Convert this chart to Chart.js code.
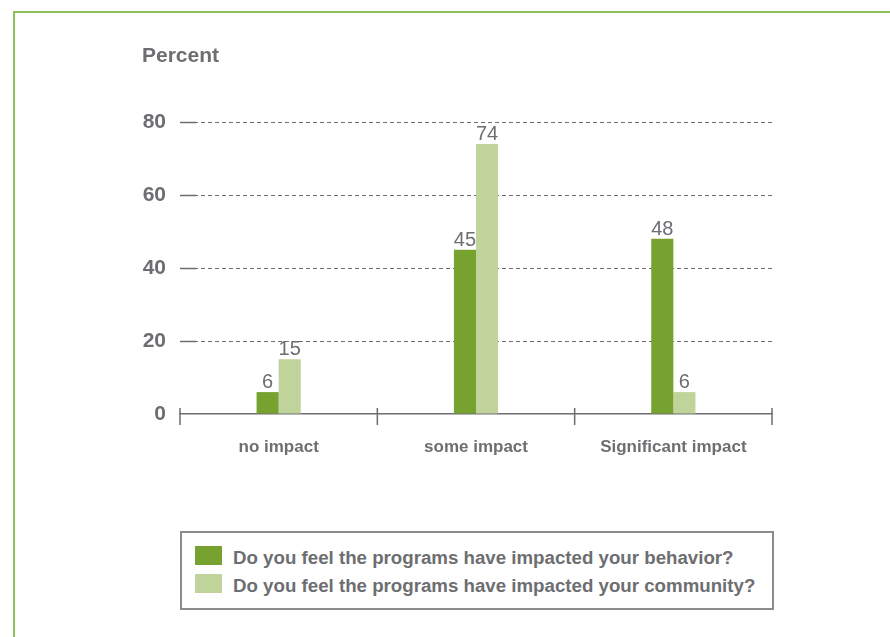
<!DOCTYPE html>
<html>
<head>
<meta charset="utf-8">
<script src="https://cdn.jsdelivr.net/npm/chart.js@4.4.1/dist/chart.umd.min.js"></script>
<style>
  html, body { margin: 0; padding: 0; background: #fff; }
  #wrap { position: relative; width: 890px; height: 637px; overflow: hidden; }
  #frame { position: absolute; left: 13px; top: 11px; width: 900px; height: 700px;
           border-left: 2px solid #8fc15a; border-top: 2px solid #8fc15a; }
  #chart { position: absolute; left: 0; top: 0; }
  #legend { position: absolute; left: 180px; top: 531px; width: 590px; height: 75px;
            border: 2px solid #8c8c8c; background: #fff;
            font: bold 18.7px "Liberation Sans", Arial, sans-serif; color: #6d6e71; }
  .row { position: absolute; left: 13px; height: 19px; white-space: nowrap; }
  .swatch { position: absolute; left: 0; top: 0; width: 27px; height: 19px; }
  .text { position: absolute; left: 38px; top: 2px; line-height: 19px; }
</style>
</head>
<body>
<div id="wrap">
  <div id="frame"></div>
  <canvas id="chart" width="890" height="637"></canvas>
  <div id="legend"></div>
</div>
<script>
// datos
const categories = ['no impact', 'some impact', 'Significant impact'];
const behaviorValues = [6, 45, 48];
const communityValues = [15, 74, 6];
const yTicks = [0, 20, 40, 60, 80];
const seriesLabels = [
  'Do you feel the programs have impacted your behavior?',
  'Do you feel the programs have impacted your community?'
];

const GRAY = '#6d6e71';
const FONT = '"Liberation Sans", Arial, sans-serif';

// marcas extra: trazos cortos del eje y, marcas del eje x, etiquetas y titulo
const extrasPlugin = {
  id: 'extras',
  afterDatasetsDraw(chart) {
    const ctx = chart.ctx;
    const xs = chart.scales.x;
    const ys = chart.scales.y;
    const area = chart.chartArea;
    ctx.save();
    ctx.strokeStyle = GRAY;
    ctx.lineWidth = 1.5;

    // trazo solido al inicio de cada linea de cuadricula
    yTicks.forEach(v => {
      if (v === 0) return;
      const y = Math.round(ys.getPixelForValue(v)) + 0.5;
      ctx.beginPath();
      ctx.moveTo(area.left, y);
      ctx.lineTo(area.left + 16, y);
      ctx.stroke();
    });

    // marcas entre categorias
    const bounds = [xs.left];
    for (let i = 0; i < categories.length - 1; i++) {
      bounds.push((xs.getPixelForValue(i) + xs.getPixelForValue(i + 1)) / 2);
    }
    bounds.push(xs.right);
    bounds.forEach(x => {
      ctx.beginPath();
      ctx.moveTo(x, area.bottom - 6);
      ctx.lineTo(x, area.bottom + 11);
      ctx.stroke();
    });

    // valores encima de las barras
    ctx.fillStyle = GRAY;
    ctx.font = '20px ' + FONT;
    ctx.textAlign = 'center';
    ctx.textBaseline = 'alphabetic';
    chart.data.datasets.forEach((ds, di) => {
      chart.getDatasetMeta(di).data.forEach((bar, i) => {
        ctx.fillText(String(ds.data[i]), bar.x, bar.y - 4);
      });
    });

    // titulo
    ctx.font = 'bold 21px ' + FONT;
    ctx.textAlign = 'left';
    ctx.fillText('Percent', 142, 62);
    ctx.restore();
  }
};

const chart = new Chart(document.getElementById('chart'), {
  type: 'bar',
  data: {
    labels: categories,
    datasets: [
      { label: seriesLabels[0], data: behaviorValues, backgroundColor: '#78a22f' },
      { label: seriesLabels[1], data: communityValues, backgroundColor: '#bfd39a' }
    ]
  },
  options: {
    responsive: false,
    animation: false,
    layout: { padding: { left: 0, right: 118, top: 122, bottom: 173 } },
    datasets: { bar: { categoryPercentage: 0.224, barPercentage: 1, borderWidth: 0 } },
    plugins: { legend: { display: false }, tooltip: { enabled: false } },
    scales: {
      x: {
        offset: true,
        grid: { display: false, drawTicks: false },
        border: { display: true, color: GRAY, width: 1.5 },
        ticks: { color: GRAY, font: { family: FONT, size: 17, weight: 'bold' },
                 padding: 23, maxRotation: 0 },
        afterFit: s => { s.height = 50; }
      },
      y: {
        min: 0,
        max: 80,
        afterBuildTicks: s => { s.ticks = yTicks.map(v => ({ value: v })); },
        grid: {
          drawTicks: false,
          lineWidth: 1,
          color: c => (c.tick && c.tick.value === 0) ? 'rgba(0,0,0,0)' : GRAY
        },
        border: { display: false, dash: [4, 3] },
        ticks: { color: GRAY, font: { family: FONT, size: 21, weight: 'bold' }, padding: 14 },
        afterFit: s => { s.width = 180; }
      }
    }
  },
  plugins: [extrasPlugin]
});

// leyenda en html a partir de los datasets
const legend = document.getElementById('legend');
chart.data.datasets.forEach((ds, i) => {
  const row = document.createElement('div');
  row.className = 'row';
  row.style.top = (13 + i * 28) + 'px';
  const sw = document.createElement('span');
  sw.className = 'swatch';
  sw.style.background = ds.backgroundColor;
  const tx = document.createElement('span');
  tx.className = 'text';
  tx.textContent = ds.label;
  row.appendChild(sw);
  row.appendChild(tx);
  legend.appendChild(row);
});
</script>
</body>
</html>
